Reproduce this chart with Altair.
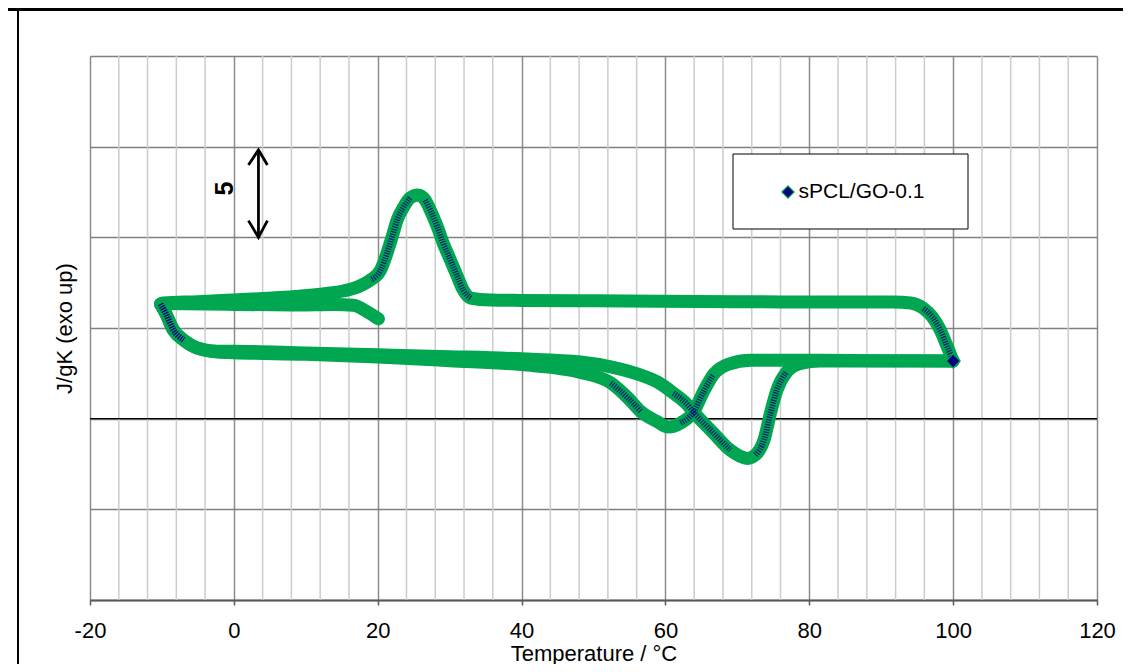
import altair as alt
import pandas as pd

GREEN = "#00A650"
NAVY = "#000080"
FONT = "Liberation Sans"

# ---- data (temperature in °C, heat flow in J/gK, exo up) ----
cool_T = [100.0, 99.2, 98.2, 97.1, 95.8, 94.1, 91.7, 87.1, 70.0, 50.0, 40.0, 35.7, 32.9, 31.9, 31.1,
          30.1, 29.1, 28.3, 27.3, 26.6, 25.6, 24.5, 23.6, 22.7, 22.0, 21.3, 20.4, 19.0, 17.2, 15.2,
          13.4, 9.0, 0.0, -5.0, -9.8, -10.2]
cool_v = [3.18, 3.95, 4.89, 5.61, 6.10, 6.38, 6.43, 6.43, 6.45, 6.50, 6.52, 6.54, 6.65, 7.09, 7.81,
          8.75, 9.68, 10.57, 11.51, 12.06, 12.34, 12.17, 11.67, 10.96, 10.02, 9.14, 8.20, 7.65, 7.26, 7.04,
          6.93, 6.75, 6.55, 6.45, 6.38, 6.32]

tail_T = [20.1, 18.6, 16.6, 14.0, 9.0, 0.0, -9.8]
tail_v = [5.50, 5.88, 6.25, 6.30, 6.27, 6.30, 6.35]

heatA_T = [-10.2, -9.5, -8.4, -7.0, -5.1, -2.3, 0.0, 10.0, 20.0, 30.0, 40.0, 48.2, 52.4, 56.6, 58.9,
           61.1, 63.1, 63.9, 66.7, 69.0, 71.4, 72.5, 73.7, 74.6, 75.5, 76.9, 78.8, 81.5, 90.0, 100.0]
heatA_v = [6.32, 5.82, 4.89, 4.34, 3.90, 3.72, 3.72, 3.62, 3.52, 3.42, 3.30, 3.13, 2.86, 2.40, 2.02,
           1.41, 0.75, 0.37, -0.80, -1.73, -2.19, -2.00, -1.18, 0.30, 1.58, 2.59, 3.05, 3.18, 3.18, 3.18]

heatB_T = [-10.2, -9.5, -8.4, -7.0, -5.1, -2.3, 0.0, 10.0, 20.0, 30.0, 40.0, 48.2, 52.4, 54.8, 56.6,
           58.9, 60.4, 62.1, 63.9, 65.3, 66.7, 68.7, 71.9, 81.5, 90.0, 100.0]
heatB_v = [6.32, 5.82, 4.89, 4.34, 3.90, 3.68, 3.64, 3.55, 3.40, 3.20, 2.98, 2.55, 1.97, 1.14, 0.38,
           -0.17, -0.46, -0.24, 0.37, 1.50, 2.45, 3.00, 3.22, 3.22, 3.20, 3.18]

series_name = "sPCL/GO-0.1"
end_T = [100.0]
end_v = [3.18]

x_major = [-20, 0, 20, 40, 60, 80, 100, 120]
x_minor = [t for t in range(-20, 121, 4) if t % 20 != 0]
y_grid = [-10, -5, 0, 5, 10, 15, 20]

# scale bar (5 units)
arrow_piece = ["shaft", "shaft", "top", "top", "top", "bot", "bot", "bot"]
arrow_T = [3.42, 3.42, 2.03, 3.42, 4.67, 2.03, 3.42, 4.67]
arrow_v = [14.82, 10.0, 13.99, 14.82, 13.99, 10.92, 10.0, 10.92]
bar_label_T = [-1.24]
bar_label_v = [12.69]
bar_label = ["5"]

# ---- build tables ----
PX_PER_T = 1007 / 140.0
PX_PER_V = 544 / 30.0

rows = []
steep_rows = []
for seg, ts, vs in [("tail", tail_T, tail_v), ("cool", cool_T, cool_v),
                    ("heatA", heatA_T, heatA_v), ("heatB", heatB_T, heatB_v)]:
    for i, (t, v) in enumerate(zip(ts, vs)):
        rows.append({"seg": seg, "idx": i, "T": t, "v": v})
    # stretches where the trace is steep: markers spread out, navy shows through
    run = 0
    prev_steep = False
    for i in range(len(ts) - 1):
        dx = abs(ts[i + 1] - ts[i]) * PX_PER_T
        dy = abs(vs[i + 1] - vs[i]) * PX_PER_V
        steep = dy > 0.8 * dx
        if steep:
            if not prev_steep:
                run += 1
                steep_rows.append({"run": f"{seg}{run}", "idx": i, "T": ts[i], "v": vs[i]})
            steep_rows.append({"run": f"{seg}{run}", "idx": i + 1, "T": ts[i + 1], "v": vs[i + 1]})
        prev_steep = steep
curve_df = pd.DataFrame(rows)
steep_df = pd.DataFrame(steep_rows)
end_df = pd.DataFrame({"T": end_T, "v": end_v, "series": [series_name]})
minor_df = pd.DataFrame({"T": x_minor})
zero_df = pd.DataFrame({"v": [0]})
arrow_df = pd.DataFrame({"piece": arrow_piece, "T": arrow_T, "v": arrow_v,
                         "idx": list(range(len(arrow_T)))})
label_df = pd.DataFrame({"T": bar_label_T, "v": bar_label_v, "txt": bar_label})
one_df = pd.DataFrame({"a": [0]})

xscale = alt.Scale(domain=[-20, 120], nice=False, zero=False)
yscale = alt.Scale(domain=[-10, 20], nice=False, zero=False)

x_axis = alt.Axis(values=x_major, grid=True, gridColor="#8c8c8c", gridWidth=1.5,
                  domainColor="#5a5a5a", domainWidth=2, tickColor="#5a5a5a", tickSize=5,
                  tickWidth=1.5, labelFont=FONT, labelFontSize=22, labelColor="black",
                  labelExpr="'' + datum.value",
                  labelBaseline="alphabetic", labelPadding=32, labelFlush=False,
                  title="Temperature / °C", titleFont=FONT, titleFontSize=22,
                  titleFontWeight="normal", titleColor="black", titleX=503.5, titleY=60,
                  titleBaseline="alphabetic", titleAlign="center")
y_axis = alt.Axis(values=y_grid, grid=True, gridColor="#808080", gridWidth=1.5,
                  labels=False, ticks=False, domain=False,
                  title="J/gK (exo up)", titleFont=FONT, titleFontSize=22,
                  titleFontWeight="normal", titleColor="black", titleAngle=270,
                  titleX=-19, titleY=272, titleBaseline="alphabetic", titleAlign="center")

minor = alt.Chart(minor_df).mark_rule(color="#cccccc", strokeWidth=1.5).encode(
    x=alt.X("T:Q", scale=xscale, axis=x_axis))

zero = alt.Chart(zero_df).mark_rule(color="black", strokeWidth=1.2).encode(
    y=alt.Y("v:Q", scale=yscale, axis=y_axis))

curve = alt.Chart(curve_df).mark_line(strokeWidth=13, color=GREEN, strokeJoin="round",
                                      strokeCap="round", interpolate="monotone").encode(
    x=alt.X("T:Q", scale=xscale, axis=x_axis),
    y=alt.Y("v:Q", scale=yscale, axis=y_axis),
    detail="seg:N",
    order="idx:Q",
)

navy_tex = alt.Chart(steep_df).mark_line(strokeWidth=6, color=NAVY, opacity=0.8,
                                         strokeDash=[1.2, 1.3], strokeCap="butt",
                                         interpolate="monotone").encode(
    x=alt.X("T:Q", scale=xscale),
    y=alt.Y("v:Q", scale=yscale),
    detail="run:N",
    order="idx:Q",
)

end_pt = alt.Chart(end_df).mark_point(shape="diamond", filled=True, size=200, opacity=1,
                                      stroke=GREEN, strokeWidth=1.2).encode(
    x=alt.X("T:Q", scale=xscale),
    y=alt.Y("v:Q", scale=yscale),
    color=alt.Color("series:N", scale=alt.Scale(range=[NAVY]),
                    legend=alt.Legend(title=None, orient="none", legendX=687.5, legendY=125.5,
                                      symbolType="diamond", symbolSize=150,
                                      symbolFillColor=NAVY, symbolStrokeColor=GREEN,
                                      symbolStrokeWidth=1.2, symbolOpacity=1,
                                      labelFont=FONT, labelFontSize=21, labelColor="black",
                                      labelOffset=0, padding=0)),
)

legend_box = alt.Chart(one_df).mark_rect(fill="white", stroke="black", strokeWidth=1).encode(
    x=alt.value(643), x2=alt.value(878), y=alt.value(98), y2=alt.value(173))

arrow = alt.Chart(arrow_df).mark_line(color="black", strokeWidth=2.8, strokeCap="butt",
                                      strokeJoin="miter").encode(
    x=alt.X("T:Q", scale=xscale),
    y=alt.Y("v:Q", scale=yscale),
    detail="piece:N",
    order="idx:Q",
)

bar_text = alt.Chart(label_df).mark_text(angle=270, font=FONT, fontSize=25, fontWeight="bold",
                                         color="black", align="center",
                                         baseline="middle").encode(
    x=alt.X("T:Q", scale=xscale),
    y=alt.Y("v:Q", scale=yscale),
    text="txt:N",
)

frame_left = alt.Chart(one_df).mark_rule(color="black", strokeWidth=2).encode(
    x=alt.value(-72), y=alt.value(-56), y2=alt.value(620))
frame_top = alt.Chart(one_df).mark_rule(color="black", strokeWidth=3).encode(
    x=alt.value(-90), x2=alt.value(1040), y=alt.value(-46.5))

chart = alt.layer(
    minor, zero, curve, navy_tex, legend_box, end_pt, arrow, bar_text, frame_left, frame_top
).properties(
    width=1007, height=544,
    autosize=alt.AutoSizeParams(type="none"),
    padding={"left": 82, "top": 48, "right": 26, "bottom": 64},
).configure_view(
    stroke="#8a8a8a", strokeWidth=2
).configure(
    background="white"
)

chart.save("out.html", embed_options={"renderer": "svg", "actions": False})
